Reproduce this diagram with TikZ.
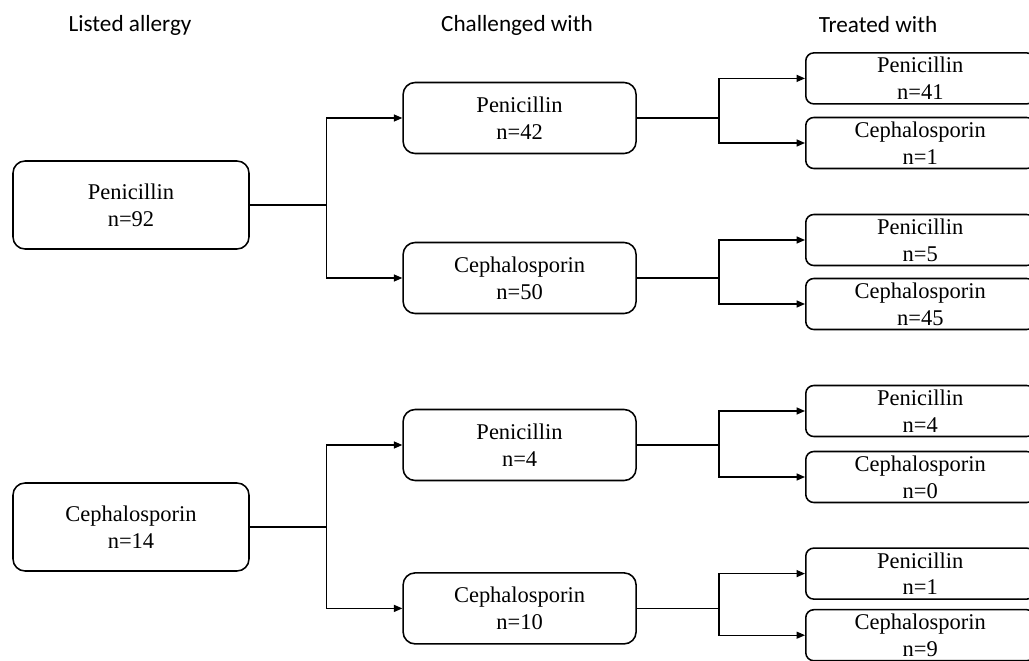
\documentclass[tikz,border=0pt]{standalone}
\usepackage{fontspec}
\setmainfont{Liberation Serif}
\newfontfamily\headfont{Carlito}
\usetikzlibrary{arrows.meta, positioning, calc}

\begin{document}
\begin{tikzpicture}[
  every node/.style={font=\fontsize{16}{19}\selectfont},
  head/.style={font=\headfont\fontsize{16.5}{20}\selectfont},
  listed/.style={draw, line width=1.1pt, rounded corners=0.3cm, align=center, minimum width=5.9cm, minimum height=2.2cm},
  challenged/.style={draw, line width=1.1pt, rounded corners=0.3cm, align=center, minimum width=5.825cm, minimum height=1.775cm},
  treated/.style={draw, line width=1.1pt, rounded corners=0.2cm, align=center, minimum width=5.725cm, minimum height=1.275cm, inner sep=0pt, anchor=west},
  link/.style={line width=0.9pt},
  arr/.style={link, -{Triangle[length=6pt, width=5pt]}}
]
  \path[use as bounding box, clip] (0,0) rectangle (25.725,16.5);

  % column headers
  \node[head] (hlisted) at (3.25,15.875) {Listed allergy};
  \node[head] (hchall) at (12.925,15.875) {Challenged with};
  \node[head] (htreat) at (21.95,15.875) {Treated with};

  % listed allergy
  \node[listed] (lpen) at (3.275,11.375) {Penicillin\\n=92};
  \node[listed] (lceph) at (3.275,3.325) {Cephalosporin\\n=14};

  % challenged with
  \node[challenged] (cpen1) at (12.99,13.55) {Penicillin\\n=42};
  \node[challenged] (cceph1) at (12.99,9.55) {Cephalosporin\\n=50};
  \node[challenged] (cpen2) at (12.99,5.375) {Penicillin\\n=4};
  \node[challenged] (cceph2) at (12.99,1.29) {Cephalosporin\\n=10};

  % treated with
  \node[treated] (tpen1) at (20.125,14.54) {Penicillin\\n=41};
  \node[treated] (tceph1) at (20.125,12.925) {Cephalosporin\\n=1};
  \node[treated] (tpen2) at (20.125,10.5) {Penicillin\\n=5};
  \node[treated] (tceph2) at (20.125,8.9) {Cephalosporin\\n=45};
  \node[treated] (tpen3) at (20.125,6.225) {Penicillin\\n=4};
  \node[treated] (tceph3) at (20.125,4.575) {Cephalosporin\\n=0};
  \node[treated] (tpen4) at (20.125,2.16) {Penicillin\\n=1};
  \node[treated] (tceph4) at (20.125,0.62) {Cephalosporin\\n=9};

  % forks from listed to challenged
  \foreach \src/\up/\down in {lpen/cpen1/cceph1, lceph/cpen2/cceph2} {
    \coordinate (f-\src) at ($(\src.east)+(1.925,0)$);
    \draw[link] (\src.east) -- (f-\src);
    \draw[arr] (f-\src) |- (\up.west);
    \draw[arr] (f-\src) |- (\down.west);
  }

  % forks from challenged to treated
  \foreach \src/\up/\down in {cpen1/tpen1/tceph1, cceph1/tpen2/tceph2, cpen2/tpen3/tceph3, cceph2/tpen4/tceph4} {
    \coordinate (f-\src) at ($(\src.east)+(2.05,0)$);
    \draw[link] (\src.east) -- (f-\src);
    \draw[arr] (f-\src) |- (\up.west);
    \draw[arr] (f-\src) |- (\down.west);
  }
\end{tikzpicture}
\end{document}
